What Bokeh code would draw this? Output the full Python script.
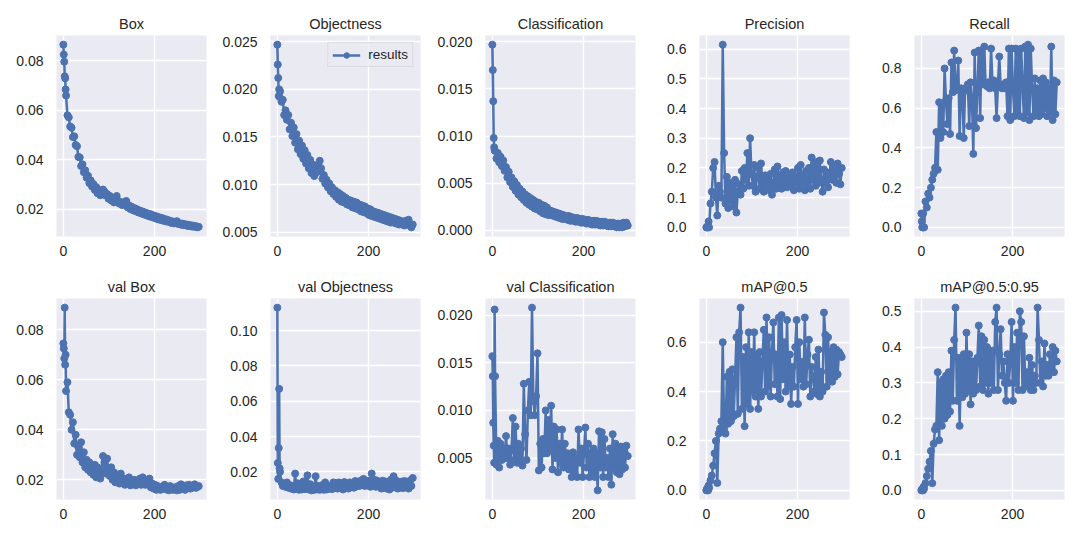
from bokeh.plotting import figure
from bokeh.layouts import row, column, Spacer
from bokeh.models import FixedTicker, PrintfTickFormatter, Range1d
from bokeh.embed import file_html
from bokeh.resources import INLINE

epochs = [0, 1, 2, 3, 4, 5] + list(range(6, 300, 3))

box = [0.0866, 0.0826, 0.0797, 0.0738, 0.0730, 0.0685,
       0.0660, 0.0580, 0.0572, 0.0535, 0.0530, 0.0492, 0.0495, 0.0460, 0.0455, 0.0412,
       0.0410, 0.0375, 0.0382, 0.0350, 0.0358, 0.0328, 0.0336, 0.0306, 0.0317, 0.0292,
       0.0302, 0.0278, 0.0290, 0.0265, 0.0278, 0.0257, 0.0270, 0.0280, 0.0272, 0.0256,
       0.0262, 0.0243, 0.0254, 0.0236, 0.0246, 0.0228, 0.0244, 0.0254, 0.0234, 0.0223,
       0.0230, 0.0217, 0.0222, 0.0226, 0.0234, 0.0208, 0.0216, 0.0201, 0.0210, 0.0196,
       0.0205, 0.0192, 0.0200, 0.0187, 0.0195, 0.0183, 0.0191, 0.0179, 0.0187, 0.0175,
       0.0183, 0.0171, 0.0180, 0.0168, 0.0175, 0.0164, 0.0172, 0.0160, 0.0168, 0.0157,
       0.0165, 0.0154, 0.0161, 0.0151, 0.0158, 0.0149, 0.0154, 0.0145, 0.0151, 0.0143,
       0.0149, 0.0152, 0.0141, 0.0144, 0.0138, 0.0142, 0.0136, 0.0140, 0.0134, 0.0138,
       0.0132, 0.0136, 0.0130, 0.0134, 0.0129, 0.0132, 0.0127, 0.0129]

objectness = [0.0247, 0.0226, 0.0212, 0.0193, 0.0200, 0.0192,
              0.0198, 0.0187, 0.0189, 0.0173, 0.0178, 0.0168, 0.0173, 0.0158, 0.0165, 0.0151,
              0.0160, 0.0144, 0.0153, 0.0137, 0.0146, 0.0132, 0.0141, 0.0127, 0.0136, 0.0122,
              0.0131, 0.0117, 0.0126, 0.0112, 0.0121, 0.0109, 0.0116, 0.0113, 0.0121, 0.0125,
              0.0117, 0.0106, 0.0110, 0.0101, 0.0105, 0.0097, 0.0101, 0.0093, 0.0097, 0.0090,
              0.0094, 0.0087, 0.0092, 0.0084, 0.0090, 0.0082, 0.0088, 0.0081, 0.0086, 0.0079,
              0.0084, 0.0078, 0.0083, 0.0076, 0.0082, 0.0075, 0.0081, 0.0074, 0.0079, 0.0072,
              0.0078, 0.0071, 0.0077, 0.0070, 0.0075, 0.0068, 0.0074, 0.0067, 0.0072, 0.0066,
              0.0071, 0.0065, 0.0070, 0.0064, 0.0069, 0.0063, 0.0068, 0.0062, 0.0067, 0.0061,
              0.0066, 0.0060, 0.0065, 0.0060, 0.0064, 0.0059, 0.0063, 0.0058, 0.0062, 0.0058,
              0.0061, 0.0057, 0.0062, 0.0058, 0.0063, 0.0057, 0.0055, 0.0058]

classification = [0.0197, 0.0170, 0.0137, 0.0098, 0.0088, 0.0085,
                  0.0084, 0.0076, 0.0082, 0.0072, 0.0078, 0.0068, 0.0074, 0.0063, 0.0067, 0.0056,
                  0.0062, 0.0051, 0.0056, 0.0046, 0.0052, 0.0042, 0.0048, 0.0038, 0.0044, 0.0035,
                  0.0041, 0.0032, 0.0038, 0.0029, 0.0036, 0.0027, 0.0034, 0.0025, 0.0032, 0.0023,
                  0.0030, 0.0022, 0.0029, 0.0020, 0.0027, 0.0018, 0.0026, 0.0017, 0.0024, 0.0016,
                  0.0021, 0.0016, 0.0020, 0.0015, 0.0019, 0.0014, 0.0018, 0.0013, 0.0017, 0.0012,
                  0.0016, 0.0012, 0.0015, 0.0011, 0.0015, 0.0010, 0.0014, 0.0010, 0.0013, 0.0009,
                  0.0013, 0.0009, 0.0012, 0.0008, 0.0012, 0.0008, 0.0011, 0.0007, 0.0011, 0.0007,
                  0.0010, 0.0006, 0.0010, 0.0006, 0.0010, 0.0006, 0.0009, 0.0005, 0.0009, 0.0005,
                  0.0009, 0.0005, 0.0008, 0.0004, 0.0008, 0.0004, 0.0008, 0.0004, 0.0007, 0.0003,
                  0.0007, 0.0003, 0.0007, 0.0003, 0.0008, 0.0004, 0.0008, 0.0005]

precision = [0.000, 0.000, 0.000, 0.005, 0.000, 0.020,
             0.000, 0.080, 0.120, 0.200, 0.220, 0.100, 0.040, 0.140, 0.120, 0.100,
             0.615, 0.250, 0.080, 0.170, 0.065, 0.150, 0.090, 0.140, 0.070, 0.160,
             0.050, 0.120, 0.145, 0.110, 0.190, 0.130, 0.200, 0.160, 0.250, 0.140,
             0.300, 0.180, 0.140, 0.210, 0.120, 0.170, 0.200, 0.130, 0.215, 0.150,
             0.120, 0.175, 0.140, 0.160, 0.125, 0.180, 0.110, 0.150, 0.195, 0.130,
             0.205, 0.140, 0.170, 0.130, 0.185, 0.150, 0.190, 0.135, 0.175, 0.160,
             0.140, 0.185, 0.125, 0.170, 0.150, 0.200, 0.130, 0.210, 0.150, 0.175,
             0.125, 0.190, 0.140, 0.200, 0.130, 0.235, 0.160, 0.215, 0.140, 0.220,
             0.150, 0.225, 0.160, 0.120, 0.195, 0.150, 0.185, 0.135, 0.180, 0.220,
             0.160, 0.175, 0.200, 0.150, 0.215, 0.180, 0.145, 0.200]

recall = [0.070, 0.030, 0.000, 0.000, 0.070, 0.000,
          0.000, 0.130, 0.100, 0.170, 0.150, 0.200, 0.240, 0.270, 0.300, 0.480,
          0.290, 0.630, 0.450, 0.620, 0.480, 0.800, 0.640, 0.520, 0.650, 0.470,
          0.830, 0.680, 0.890, 0.690, 0.700, 0.840, 0.460, 0.700, 0.680, 0.450,
          0.700, 0.690, 0.720, 0.510, 0.730, 0.650, 0.370, 0.880, 0.500, 0.700,
          0.890, 0.550, 0.880, 0.720, 0.910, 0.720, 0.710, 0.730, 0.700, 0.900,
          0.720, 0.740, 0.700, 0.550, 0.720, 0.860, 0.710, 0.700, 0.720, 0.700,
          0.730, 0.560, 0.900, 0.540, 0.900, 0.700, 0.560, 0.900, 0.580, 0.880,
          0.560, 0.900, 0.720, 0.550, 0.910, 0.580, 0.920, 0.540, 0.900, 0.700,
          0.560, 0.750, 0.580, 0.700, 0.560, 0.740, 0.570, 0.750, 0.600, 0.730,
          0.560, 0.700, 0.580, 0.910, 0.540, 0.740, 0.570, 0.730]

val_box = [0.0745, 0.0725, 0.0685, 0.0888, 0.0660, 0.0700,
           0.0555, 0.0590, 0.0470, 0.0460, 0.0400, 0.0430, 0.0345, 0.0380, 0.0300, 0.0330,
           0.0290, 0.0350, 0.0270, 0.0310, 0.0250, 0.0280, 0.0240, 0.0270, 0.0230, 0.0255,
           0.0220, 0.0260, 0.0210, 0.0250, 0.0225, 0.0205, 0.0240, 0.0295, 0.0270, 0.0225,
           0.0285, 0.0230, 0.0215, 0.0250, 0.0200, 0.0230, 0.0190, 0.0220, 0.0210, 0.0185,
           0.0225, 0.0195, 0.0205, 0.0180, 0.0200, 0.0185, 0.0210, 0.0178, 0.0195, 0.0185,
           0.0200, 0.0178, 0.0195, 0.0185, 0.0205, 0.0180, 0.0210, 0.0190, 0.0180, 0.0200,
           0.0188, 0.0205, 0.0170, 0.0185, 0.0165, 0.0180, 0.0160, 0.0175, 0.0170, 0.0160,
           0.0172, 0.0165, 0.0180, 0.0162, 0.0170, 0.0158, 0.0175, 0.0165, 0.0160, 0.0170,
           0.0162, 0.0158, 0.0175, 0.0160, 0.0182, 0.0165, 0.0172, 0.0160, 0.0178, 0.0168,
           0.0180, 0.0165, 0.0175, 0.0170, 0.0182, 0.0168, 0.0172, 0.0175]

val_objectness = [0.1130, 0.0250, 0.0160, 0.0335, 0.0670, 0.0220,
                  0.0200, 0.0140, 0.0120, 0.0125, 0.0115, 0.0140, 0.0110, 0.0125, 0.0105, 0.0120,
                  0.0100, 0.0190, 0.0105, 0.0135, 0.0098, 0.0125, 0.0100, 0.0145, 0.0102, 0.0120,
                  0.0180, 0.0100, 0.0130, 0.0095, 0.0115, 0.0098, 0.0175, 0.0100, 0.0120, 0.0098,
                  0.0110, 0.0125, 0.0098, 0.0140, 0.0100, 0.0120, 0.0105, 0.0115, 0.0102, 0.0140,
                  0.0110, 0.0135, 0.0105, 0.0140, 0.0108, 0.0130, 0.0100, 0.0142, 0.0110, 0.0125,
                  0.0105, 0.0140, 0.0115, 0.0135, 0.0110, 0.0148, 0.0118, 0.0140, 0.0120, 0.0150,
                  0.0125, 0.0160, 0.0120, 0.0145, 0.0125, 0.0150, 0.0115, 0.0190, 0.0125, 0.0155,
                  0.0115, 0.0150, 0.0120, 0.0140, 0.0105, 0.0150, 0.0110, 0.0145, 0.0105, 0.0140,
                  0.0100, 0.0155, 0.0110, 0.0175, 0.0115, 0.0150, 0.0105, 0.0140, 0.0110, 0.0145,
                  0.0108, 0.0148, 0.0112, 0.0140, 0.0105, 0.0150, 0.0120, 0.0165]

val_classification = [0.0157, 0.0136, 0.0087, 0.0063, 0.0045, 0.0206,
                      0.0136, 0.0043, 0.0068, 0.0040, 0.0065, 0.0048, 0.0060, 0.0050, 0.0073, 0.0050,
                      0.0060, 0.0043, 0.0058, 0.0092, 0.0048, 0.0083, 0.0045, 0.0065, 0.0045, 0.0060,
                      0.0042, 0.0128, 0.0075, 0.0048, 0.0100, 0.0130, 0.0095, 0.0208, 0.0110, 0.0095,
                      0.0115, 0.0160, 0.0037, 0.0065, 0.0040, 0.0070, 0.0055, 0.0100, 0.0055, 0.0090,
                      0.0060, 0.0105, 0.0038, 0.0083, 0.0050, 0.0080, 0.0035, 0.0065, 0.0045, 0.0080,
                      0.0040, 0.0065, 0.0045, 0.0055, 0.0038, 0.0050, 0.0030, 0.0056, 0.0035, 0.0050,
                      0.0030, 0.0080, 0.0045, 0.0060, 0.0030, 0.0055, 0.0082, 0.0040, 0.0065, 0.0030,
                      0.0055, 0.0035, 0.0060, 0.0030, 0.0055, 0.0016, 0.0078, 0.0040, 0.0077, 0.0030,
                      0.0070, 0.0040, 0.0050, 0.0030, 0.0060, 0.0022, 0.0075, 0.0040, 0.0065, 0.0035,
                      0.0060, 0.0033, 0.0062, 0.0038, 0.0060, 0.0040, 0.0063, 0.0052]

map50 = [0.000, 0.005, 0.000, 0.010, 0.000, 0.020,
         0.010, 0.040, 0.060, 0.100, 0.150, 0.200, 0.030, 0.230, 0.250, 0.280,
         0.600, 0.250, 0.230, 0.460, 0.270, 0.480, 0.280, 0.490, 0.300, 0.450,
         0.620, 0.310, 0.640, 0.740, 0.330, 0.540, 0.260, 0.580, 0.350, 0.640,
         0.330, 0.560, 0.400, 0.640, 0.380, 0.550, 0.330, 0.560, 0.380, 0.520,
         0.650, 0.400, 0.700, 0.420, 0.620, 0.380, 0.560, 0.680, 0.430, 0.550,
         0.380, 0.700, 0.370, 0.710, 0.450, 0.600, 0.400, 0.690, 0.420, 0.550,
         0.350, 0.500, 0.420, 0.580, 0.690, 0.350, 0.600, 0.450, 0.520, 0.420,
         0.700, 0.430, 0.550, 0.610, 0.380, 0.500, 0.460, 0.400, 0.540, 0.390,
         0.570, 0.380, 0.480, 0.400, 0.720, 0.630, 0.420, 0.620, 0.450, 0.560,
         0.440, 0.580, 0.460, 0.570, 0.470, 0.560, 0.550, 0.540]

map50_95 = [0.000, 0.002, 0.000, 0.005, 0.000, 0.010,
            0.005, 0.020, 0.040, 0.060, 0.080, 0.110, 0.020, 0.130, 0.170, 0.180,
            0.330, 0.140, 0.300, 0.180, 0.310, 0.200, 0.320, 0.210, 0.330, 0.220,
            0.390, 0.250, 0.420, 0.510, 0.250, 0.370, 0.180, 0.360, 0.260, 0.380,
            0.270, 0.440, 0.280, 0.380, 0.240, 0.360, 0.270, 0.350, 0.280, 0.370,
            0.460, 0.290, 0.430, 0.280, 0.420, 0.300, 0.400, 0.270, 0.380, 0.300,
            0.390, 0.280, 0.470, 0.510, 0.280, 0.380, 0.450, 0.320, 0.360, 0.300,
            0.250, 0.380, 0.300, 0.360, 0.470, 0.250, 0.400, 0.300, 0.440, 0.280,
            0.500, 0.470, 0.280, 0.430, 0.300, 0.330, 0.290, 0.370, 0.280, 0.350,
            0.280, 0.320, 0.300, 0.510, 0.420, 0.300, 0.360, 0.290, 0.410, 0.320,
            0.350, 0.320, 0.380, 0.340, 0.400, 0.330, 0.390, 0.360]

titles = ["Box", "Objectness", "Classification", "Precision", "Recall",
          "val Box", "val Objectness", "val Classification", "mAP@0.5", "mAP@0.5:0.95"]
series = [box, objectness, classification, precision, recall,
          val_box, val_objectness, val_classification, map50, map50_95]
y_ticks = [[0.02, 0.04, 0.06, 0.08],
           [0.005, 0.010, 0.015, 0.020, 0.025],
           [0.000, 0.005, 0.010, 0.015, 0.020],
           [0.0, 0.1, 0.2, 0.3, 0.4, 0.5, 0.6],
           [0.0, 0.2, 0.4, 0.6, 0.8],
           [0.02, 0.04, 0.06, 0.08],
           [0.02, 0.04, 0.06, 0.08, 0.10],
           [0.005, 0.010, 0.015, 0.020],
           [0.0, 0.2, 0.4, 0.6],
           [0.0, 0.1, 0.2, 0.3, 0.4, 0.5]]
y_formats = ["%.2f", "%.3f", "%.3f", "%.1f", "%.1f",
             "%.2f", "%.2f", "%.3f", "%.1f", "%.1f"]
x_ticks = [0, 200]

COLOR = "#4C72B0"
TEXT = "#262626"
FONT = "Liberation Sans"

figs = []
for i, (title, ys) in enumerate(zip(titles, series)):
    r = i // 5
    c = i % 5
    left = 52
    right = 12 if c % 2 == 0 else 13
    top = 27 if r == 0 else 31
    bottom = 31 if r == 0 else 32
    lo, hi = min(ys), max(ys)
    pad = 0.05 * (hi - lo)
    p = figure(width=left + 150 + right, height=top + 201 + bottom,
               output_backend="svg", toolbar_location=None,
               x_range=Range1d(-15, 314), y_range=Range1d(lo - pad, hi + pad),
               min_border_left=left, min_border_right=right,
               min_border_top=top, min_border_bottom=bottom)
    p.title.text = title
    p.title.align = "center"
    p.title.text_font = FONT
    p.title.text_font_size = "14.5px"
    p.title.text_font_style = "normal"
    p.title.text_color = TEXT
    p.title.standoff = 7
    p.background_fill_color = "#EAEAF2"
    p.border_fill_color = "white"
    p.outline_line_color = None
    for ax in (p.xaxis[0], p.yaxis[0]):
        ax.axis_line_color = None
        ax.major_tick_line_color = None
        ax.minor_tick_line_color = None
        ax.major_tick_in = 0
        ax.major_tick_out = 0
        ax.minor_tick_in = 0
        ax.minor_tick_out = 0
        ax.major_label_text_font = FONT
        ax.major_label_text_font_size = "14px"
        ax.major_label_text_color = TEXT
    p.xaxis.ticker = FixedTicker(ticks=x_ticks)
    p.xaxis.major_label_standoff = 9
    p.yaxis.ticker = FixedTicker(ticks=y_ticks[i])
    p.yaxis.formatter = PrintfTickFormatter(format=y_formats[i])
    p.yaxis.major_label_standoff = 13
    p.xgrid.grid_line_color = "white"
    p.ygrid.grid_line_color = "white"
    p.xgrid.grid_line_width = 1.4
    p.ygrid.grid_line_width = 1.4
    if i == 1:
        p.line(epochs, ys, color=COLOR, line_width=2.5, line_join="round", legend_label="results")
        p.scatter(epochs, ys, size=7, color=COLOR, legend_label="results")
        lg = p.legend[0]
        lg.location = "top_right"
        lg.label_text_font = FONT
        lg.label_text_font_size = "13.5px"
        lg.label_text_color = TEXT
        lg.background_fill_color = "#EAEAF2"
        lg.background_fill_alpha = 0.8
        lg.border_line_color = "#CCCCCC"
        lg.border_line_width = 1
        lg.glyph_width = 28
        lg.glyph_height = 14
        lg.label_height = 14
        lg.label_standoff = 8
        lg.padding = 4
        lg.margin = 7
    else:
        p.line(epochs, ys, color=COLOR, line_width=2.5, line_join="round")
        p.scatter(epochs, ys, size=7, color=COLOR)
    figs.append(p)

layout = row(Spacer(width=4),
             column(Spacer(height=8), row(*figs[:5]), row(*figs[5:])))
open("out.html", "w").write(file_html(layout, INLINE))
